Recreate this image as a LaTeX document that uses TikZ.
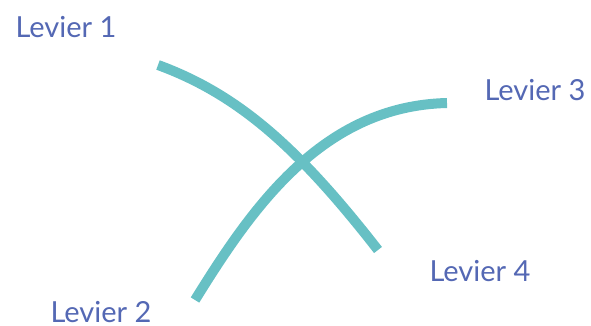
\documentclass[tikz,border=0pt]{standalone}
\usepackage{fontspec}
\setmainfont{Lato}
\definecolor{teal}{HTML}{67C0C4}
\definecolor{lab}{HTML}{5468B4}
\begin{document}
\begin{tikzpicture}[x=1pt,y=-1pt,
  lever/.style={draw=teal,line width=10pt},
  lbl/.style={text=lab,font=\fontsize{29}{33}\selectfont,inner sep=0pt}]
\useasboundingbox (0,0) rectangle (591,326);
\node[lbl] (l1) at (66,27) {Levier 1};
\node[lbl] (l2) at (101,312) {Levier 2};
\node[lbl] (l3) at (535,90) {Levier 3};
\node[lbl] (l4) at (480,271) {Levier 4};
\coordinate (a1) at (158,65);
\coordinate (a4) at (378,250);
\coordinate (a2) at (195,300);
\coordinate (a3) at (447,103);
\draw[lever] (a1) .. controls (240,95) and (300,150) .. (a4);
\draw[lever] (a2) .. controls (252,208) and (322,106) .. (a3);
\end{tikzpicture}
\end{document}
